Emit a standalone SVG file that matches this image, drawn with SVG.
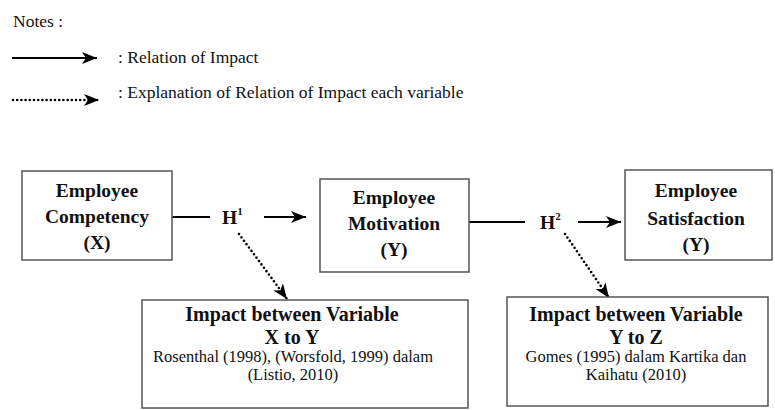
<svg xmlns="http://www.w3.org/2000/svg" width="775" height="410" viewBox="0 0 775 410">
<defs>
<style>
.t{font-family:"Liberation Serif","Times New Roman",serif;fill:#111}
.r{font-size:17.5px}
.s{font-size:16.5px}
.b{font-weight:bold;font-size:19.5px}
.h{font-weight:bold;font-size:20px}
.box{fill:#fff;stroke:#555;stroke-width:1.5}
.ln{stroke:#000;stroke-width:2;fill:none}
.dot{stroke:#000;stroke-width:2.6;fill:none;stroke-dasharray:0 4.2;stroke-linecap:round}
</style>
<marker id="ah" markerUnits="userSpaceOnUse" markerWidth="16" markerHeight="14" refX="15" refY="6" orient="auto" viewBox="0 0 16 12">
<path d="M0,0 L15,6 L0,12 L4,6 Z" fill="#000"/>
</marker>
</defs>
<rect width="775" height="410" fill="#fff"/>
<g id="legend">
<text class="t r" x="13" y="27">Notes :</text>
<line class="ln" x1="12" y1="58" x2="97" y2="58" marker-end="url(#ah)"/>
<text class="t r" x="118" y="63">: Relation of Impact</text>
<line class="dot" x1="13" y1="100" x2="99" y2="100" marker-end="url(#ah)"/>
<text class="t r" x="118" y="98">: Explanation of Relation of Impact each variable</text>
</g>
<g id="connectors">
<line class="ln" x1="172" y1="217" x2="210" y2="217"/>
<line class="ln" x1="264" y1="217" x2="306" y2="217" marker-end="url(#ah)"/>
<line class="ln" x1="469" y1="222" x2="525" y2="222"/>
<line class="ln" x1="578" y1="222" x2="621" y2="222" marker-end="url(#ah)"/>
<line class="dot" x1="239" y1="234" x2="287" y2="299" marker-end="url(#ah)"/>
<line class="dot" x1="565" y1="234" x2="609" y2="298" marker-end="url(#ah)"/>
</g>
<g id="h1">
<text class="t b" x="222" y="224">H<tspan font-size="11" dy="-9">1</tspan></text>
</g>
<g id="h2">
<text class="t b" x="540" y="229">H<tspan font-size="11" dy="-9">2</tspan></text>
</g>
<g id="competency">
<rect class="box" x="22" y="171" width="150" height="89"/>
<text class="t b" text-anchor="middle" x="97" y="197">Employee</text>
<text class="t b" text-anchor="middle" x="97" y="223">Competency</text>
<text class="t b" text-anchor="middle" x="97" y="249">(X)</text>
</g>
<g id="motivation">
<rect class="box" x="320" y="179" width="149" height="93"/>
<text class="t b" text-anchor="middle" x="394" y="204">Employee</text>
<text class="t b" text-anchor="middle" x="394" y="230">Motivation</text>
<text class="t b" text-anchor="middle" x="394" y="256">(Y)</text>
</g>
<g id="satisfaction">
<rect class="box" x="625" y="170" width="147" height="90"/>
<text class="t b" text-anchor="middle" x="696" y="197">Employee</text>
<text class="t b" text-anchor="middle" x="696" y="225">Satisfaction</text>
<text class="t b" text-anchor="middle" x="696" y="251">(Y)</text>
</g>
<g id="impact-xy">
<rect class="box" x="142" y="300" width="326" height="108"/>
<text class="t h" text-anchor="middle" x="292" y="321">Impact between Variable</text>
<text class="t h" text-anchor="middle" x="292" y="344">X to Y</text>
<text class="t s" text-anchor="middle" x="293" y="362">Rosenthal (1998), (Worsfold, 1999) dalam</text>
<text class="t s" text-anchor="middle" x="293" y="380">(Listio, 2010)</text>
</g>
<g id="impact-yz">
<rect class="box" x="507" y="297" width="261" height="109"/>
<text class="t h" text-anchor="middle" x="636" y="321">Impact between Variable</text>
<text class="t h" text-anchor="middle" x="636" y="344">Y to Z</text>
<text class="t s" text-anchor="middle" x="636" y="362">Gomes (1995) dalam Kartika dan</text>
<text class="t s" text-anchor="middle" x="636" y="380">Kaihatu (2010)</text>
</g>
</svg>
